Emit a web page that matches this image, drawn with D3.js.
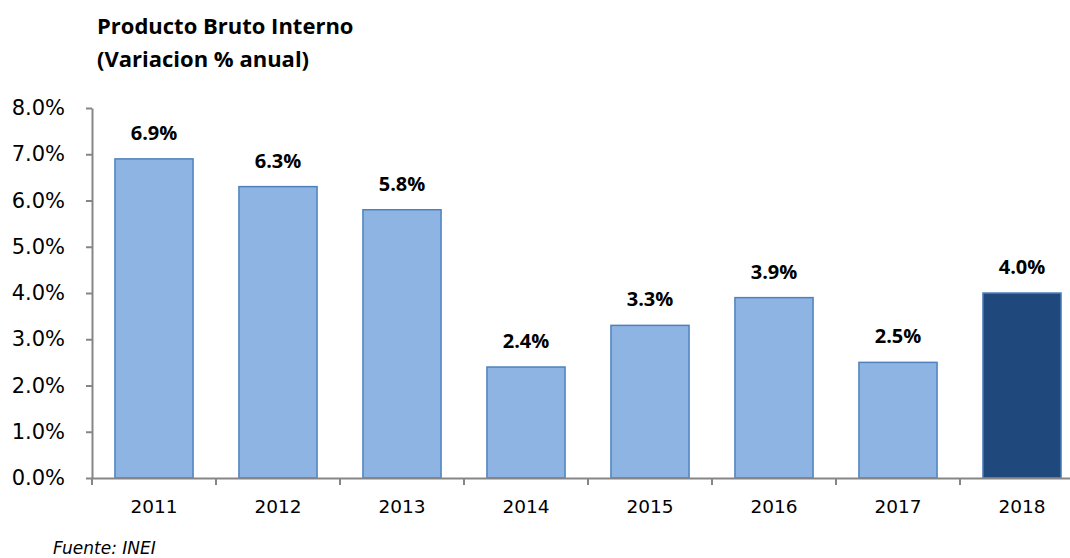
<!DOCTYPE html>
<html>
<head>
<meta charset="utf-8">
<script src="https://cdn.jsdelivr.net/npm/d3@7"></script>
<style>
  body { margin: 0; background: #fff; }
  svg { display: block; }
</style>
</head>
<body>
<svg width="1070" height="558"></svg>
<script>
// PBI variacion % anual
const years = ['2011', '2012', '2013', '2014', '2015', '2016', '2017', '2018'];
const growth = [6.9, 6.3, 5.8, 2.4, 3.3, 3.9, 2.5, 4.0];
const yTicks = [0, 1, 2, 3, 4, 5, 6, 7, 8];

const svg = d3.select('svg');
const axisColor = '#868686';

const x = d3.scaleBand().domain(years).range([92, 1084]).paddingInner(0.37).paddingOuter(0.185);
const y = d3.scaleLinear().domain([0, 8]).range([478, 108]);

// titulo
const title = svg.append('text')
  .style('font-family', '"Open Sans", sans-serif')
  .style('font-weight', 'bold')
  .style('font-size', '22px')
  .attr('fill', '#000');
title.append('tspan').attr('x', 97).attr('y', 34).text('Producto Bruto Interno');
title.append('tspan').attr('x', 97).attr('y', 67).text('(Variacion % anual)');

// barras
svg.append('g')
  .selectAll('rect')
  .data(growth)
  .join('rect')
  .attr('x', (d, i) => x(years[i]))
  .attr('y', (d) => y(d))
  .attr('width', x.bandwidth())
  .attr('height', (d) => y(0) - y(d))
  .attr('fill', (d, i) => i === years.length - 1 ? '#1F497D' : '#8EB4E3')
  .attr('stroke', '#4F81BD')
  .attr('stroke-width', 1.5);

// etiquetas de datos
svg.append('g')
  .selectAll('text')
  .data(growth)
  .join('text')
  .attr('x', (d, i) => x(years[i]) + x.bandwidth() / 2)
  .attr('y', (d) => y(d) - 19)
  .attr('text-anchor', 'middle')
  .style('font-family', '"Open Sans", sans-serif')
  .style('font-weight', 'bold')
  .style('font-size', '20px')
  .text((d) => d.toFixed(1) + '%');

// eje y
const yAxis = svg.append('g')
  .attr('transform', 'translate(92,0)')
  .call(d3.axisLeft(y).tickValues(yTicks).tickFormat((d) => d.toFixed(1) + '%').tickSize(6).tickSizeOuter(0).tickPadding(21));

// eje x
const xAxis = svg.append('g')
  .attr('transform', 'translate(0,478)')
  .call(d3.axisBottom(x).tickSize(0).tickPadding(22));

// marcas del eje x entre categorias
const bounds = years.map((d) => x(d) - x.step() * x.paddingInner() / 2);
xAxis.selectAll('line.sep')
  .data(bounds)
  .join('line')
  .attr('class', 'sep')
  .attr('x1', (d) => d).attr('x2', (d) => d)
  .attr('y1', 0).attr('y2', 7)
  .attr('stroke', axisColor)
  .attr('stroke-width', 2);

[yAxis, xAxis].forEach((g) => {
  g.select('.domain').attr('stroke', axisColor).attr('stroke-width', 2);
  g.selectAll('.tick line').attr('stroke', axisColor).attr('stroke-width', 2);
  g.selectAll('.tick text')
    .attr('fill', '#000')
    .style('font-family', '"DejaVu Sans", sans-serif');
});
yAxis.selectAll('.tick text').style('font-size', '21px');
xAxis.selectAll('.tick text').style('font-size', '18.5px');

// fuente
svg.append('text')
  .attr('x', 53)
  .attr('y', 554)
  .style('font-family', '"DejaVu Sans", sans-serif')
  .style('font-style', 'italic')
  .style('font-size', '17px')
  .text('Fuente: INEI');
</script>
</body>
</html>
